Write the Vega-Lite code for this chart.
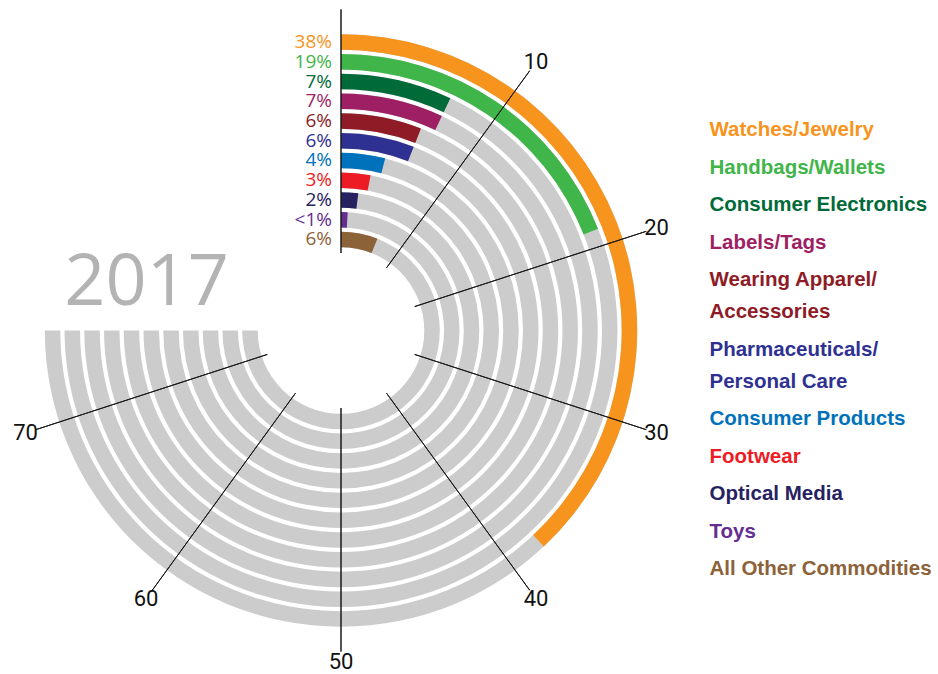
{
  "$schema": "https://vega.github.io/schema/vega-lite/v6.json",
  "width": 682,
  "height": 661,
  "autosize": {"type": "none"},
  "padding": {"left": 0, "top": 0, "right": 256, "bottom": 13},
  "background": "white",
  "config": {"view": {"stroke": null}},
  "datasets": {
    "cats": [
      {"category": "Watches/Jewelry", "label": "38%", "pct": 38, "rank": 1},
      {"category": "Handbags/Wallets", "label": "19%", "pct": 19, "rank": 2},
      {"category": "Consumer Electronics", "label": "7%", "pct": 7, "rank": 3},
      {"category": "Labels/Tags", "label": "7%", "pct": 7, "rank": 4},
      {"category": "Wearing Apparel/Accessories", "label": "6%", "pct": 6, "rank": 5},
      {"category": "Pharmaceuticals/Personal Care", "label": "6%", "pct": 6, "rank": 6},
      {"category": "Consumer Products", "label": "4%", "pct": 4, "rank": 7},
      {"category": "Footwear", "label": "3%", "pct": 3, "rank": 8},
      {"category": "Optical Media", "label": "2%", "pct": 2, "rank": 9},
      {"category": "Toys", "label": "<1%", "pct": 0.9, "rank": 10},
      {"category": "All Other Commodities", "label": "6%", "pct": 6, "rank": 11}
    ],
    "ticks": [
      {"tick": 0}, {"tick": 10}, {"tick": 20}, {"tick": 30},
      {"tick": 40}, {"tick": 50}, {"tick": 60}, {"tick": 70}
    ],
    "year": [{"year": "2017"}]
  },
  "layer": [
    {
      "data": {"name": "cats"},
      "mark": {"type": "arc", "radius2Offset": -15.5, "color": "#cccccc", "theta2": 4.71238898},
      "encoding": {
        "theta": {"datum": 0, "type": "quantitative", "scale": {"type": "linear", "domain": [0, 100], "range": [0, 6.283185307]}},
        "radius": {"field": "rank", "type": "quantitative", "scale": {"type": "linear", "domain": [1, 11], "range": [296.2, 98.8], "zero": false}},
        "radius2": {"field": "rank"}
      }
    },
    {
      "data": {"name": "cats"},
      "mark": {"type": "arc", "radius2Offset": -15.5, "theta2": 0},
      "encoding": {
        "theta": {"field": "pct", "type": "quantitative", "stack": null},
        "radius": {"field": "rank", "type": "quantitative"},
        "radius2": {"field": "rank"},
        "color": {
          "field": "category",
          "type": "nominal",
          "scale": {
            "domain": ["Watches/Jewelry", "Handbags/Wallets", "Consumer Electronics", "Labels/Tags", "Wearing Apparel/Accessories", "Pharmaceuticals/Personal Care", "Consumer Products", "Footwear", "Optical Media", "Toys", "All Other Commodities"],
            "range": ["#f7941d", "#3fb54a", "#006a38", "#9e1f63", "#8e1b26", "#2e3192", "#0072bc", "#ed1c24", "#262261", "#662d91", "#8c6239"]
          },
          "legend": {
            "orient": "none",
            "legendX": 689,
            "legendY": 120,
            "title": null,
            "padding": 0,
            "symbolSize": 0,
            "symbolStrokeWidth": 0,
            "symbolOpacity": 0,
            "labelOffset": 0,
            "labelFont": "Liberation Sans",
            "labelFontWeight": "bold",
            "labelFontSize": 20.5,
            "labelLimit": 300,
            "rowPadding": 16.5,
            "labelExpr": "datum.label == 'Wearing Apparel/Accessories' ? ['Wearing Apparel/', 'Accessories'] : datum.label == 'Pharmaceuticals/Personal Care' ? ['Pharmaceuticals/', 'Personal Care'] : datum.label",
            "encode": {
              "labels": {
                "update": {
                  "fill": {"scale": "color", "field": "value"},
                  "lineHeight": {"value": 32}
                }
              }
            }
          }
        }
      }
    },
    {
      "data": {"name": "ticks"},
      "mark": {"type": "arc", "filled": false, "stroke": "#1a1a1a", "strokeWidth": 1, "radius2": 77.5},
      "encoding": {
        "theta": {"field": "tick", "type": "quantitative", "stack": null},
        "theta2": {"field": "tick"},
        "radius": {"datum": -0.26, "type": "quantitative"}
      }
    },
    {
      "data": {"name": "cats"},
      "mark": {"type": "text", "align": "right", "baseline": "middle", "dx": -9, "dy": 7.75, "font": "Open Sans", "fontSize": 19},
      "encoding": {
        "theta": {"datum": 0, "type": "quantitative"},
        "radius": {"field": "rank", "type": "quantitative"},
        "text": {"field": "label", "type": "nominal"},
        "color": {"field": "category", "type": "nominal", "legend": null}
      }
    },
    {
      "data": {"name": "ticks"},
      "transform": [{"filter": "datum.tick > 0"}],
      "mark": {"type": "text", "align": "center", "baseline": "middle", "font": "Roboto", "fontSize": 22, "color": "#111111"},
      "encoding": {
        "theta": {"field": "tick", "type": "quantitative", "stack": null},
        "radius": {"datum": -0.8, "type": "quantitative"},
        "text": {"field": "tick", "type": "quantitative"}
      }
    },
    {
      "data": {"name": "year"},
      "mark": {"type": "text", "align": "center", "baseline": "alphabetic", "font": "Open Sans", "fontSize": 72, "color": "#b3b3b3"},
      "encoding": {
        "theta": {"datum": 77.08, "type": "quantitative"},
        "radius": {"datum": 6.076, "type": "quantitative"},
        "text": {"field": "year", "type": "nominal"}
      }
    }
  ]
}
